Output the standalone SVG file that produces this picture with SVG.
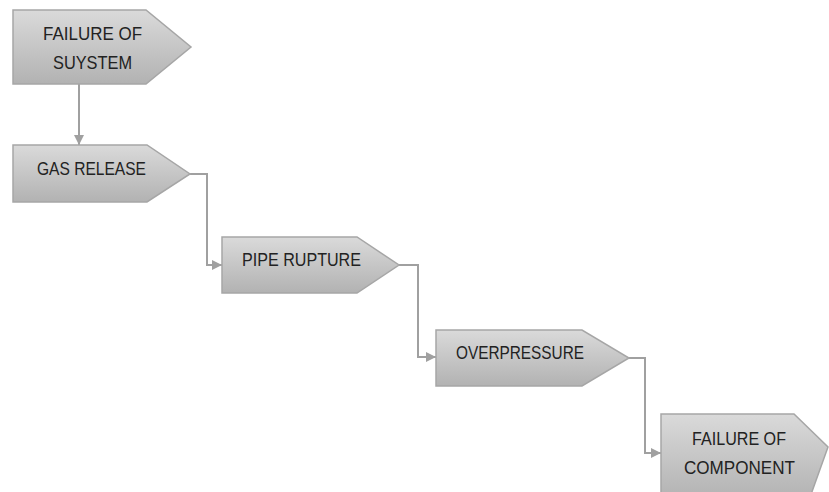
<svg xmlns="http://www.w3.org/2000/svg" width="829" height="492" viewBox="0 0 829 492">
<style>
.n{fill:url(#g);stroke:#a6a6a6;stroke-width:1.5}
.t{font-family:"Liberation Sans",Arial,sans-serif;font-size:18px;fill:#222222;text-anchor:middle}
.c{fill:none;stroke:#a0a0a0;stroke-width:2;marker-end:url(#a)}
</style>
<defs>
<linearGradient id="g" x1="0" y1="0" x2="0" y2="1">
<stop offset="0" stop-color="#dadada"/>
<stop offset="1" stop-color="#b2b2b2"/>
</linearGradient>
<marker id="a" markerUnits="userSpaceOnUse" markerWidth="10" markerHeight="10" refX="10" refY="5" orient="auto" viewBox="0 0 10 10">
<path d="M0,0 L10,5 L0,10 z" fill="#a0a0a0"/>
</marker>
</defs>
<g id="connectors">
<path class="c" d="M79,84 V145"/>
<path class="c" d="M190,174 H207 V265 H222"/>
<path class="c" d="M399,265 H418 V357 H436"/>
<path class="c" d="M629,358 H645 V453 H661"/>
</g>
<g id="n1">
<polygon class="n" points="13,10 146,10 191,47 146,84 13,84"/>
<text class="t" x="92.5" y="39.5" textLength="99" lengthAdjust="spacingAndGlyphs">FAILURE OF</text>
<text class="t" x="92.5" y="68.5" textLength="79" lengthAdjust="spacingAndGlyphs">SUYSTEM</text>
</g>
<g id="n2">
<polygon class="n" points="13,145 147,145 190,174 147,202 13,202"/>
<text class="t" x="91.5" y="174.5" textLength="109" lengthAdjust="spacingAndGlyphs">GAS RELEASE</text>
</g>
<g id="n3">
<polygon class="n" points="222,237 357,237 399,265 357,293 222,293"/>
<text class="t" x="301.5" y="265.5" textLength="119" lengthAdjust="spacingAndGlyphs">PIPE RUPTURE</text>
</g>
<g id="n4">
<polygon class="n" points="436,330 582,330 629,358 582,386 436,386"/>
<text class="t" x="520" y="358.5" textLength="128" lengthAdjust="spacingAndGlyphs">OVERPRESSURE</text>
</g>
<g id="n5">
<polygon class="n" points="661,414 794,414 828,447 809,500 661,500"/>
<text class="t" x="739" y="444.5" textLength="94" lengthAdjust="spacingAndGlyphs">FAILURE OF</text>
<text class="t" x="739.5" y="473.5" textLength="111" lengthAdjust="spacingAndGlyphs">COMPONENT</text>
</g>
</svg>
